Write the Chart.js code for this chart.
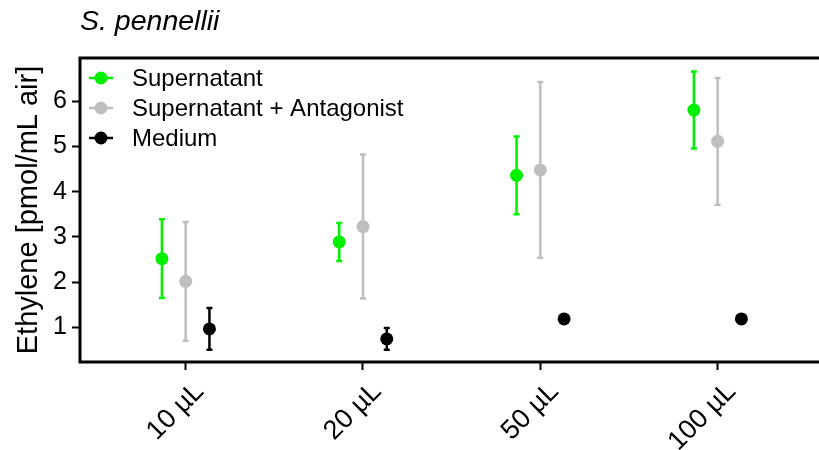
<!DOCTYPE html>
<html>
<head>
<meta charset="utf-8">
<script src="https://cdn.jsdelivr.net/npm/chart.js@4.4.1/dist/chart.umd.min.js"></script>
<style>
  html, body { margin: 0; padding: 0; background: #fff; }
</style>
</head>
<body>
<canvas id="myChart" width="819" height="450"></canvas>
<script>
// data (mean and sd per dose)
var categories = ['10 µL', '20 µL', '50 µL', '100 µL'];
var seriesNames = ['Supernatant', 'Supernatant + Antagonist', 'Medium'];
var supernatant = [2.52, 2.89, 4.36, 5.80];
var supernatantSd = [0.87, 0.42, 0.86, 0.85];
var antagonist = [2.02, 3.23, 4.48, 5.11];
var antagonistSd = [1.31, 1.59, 1.94, 1.40];
var medium = [0.97, 0.75, 1.19, 1.19];
var mediumSd = [0.46, 0.24, 0, 0];
var yTicks = [1, 2, 3, 4, 5, 6];

var colors = ['#00f000', '#bebebe', '#000000'];
var dodge = [-0.134, 0, 0.134];

Chart.defaults.font.family = '"Liberation Sans", Arial, sans-serif';
Chart.defaults.color = '#000';

function makePoints(values, sds, k) {
  return values.map(function (v, i) {
    return { x: i + dodge[k], y: v, sd: sds[i] };
  });
}

// error bars drawn under the points
var errorBars = {
  id: 'errorBars',
  beforeDatasetsDraw: function (chart) {
    var ctx = chart.ctx;
    var xs = chart.scales.x, ys = chart.scales.y;
    chart.data.datasets.forEach(function (ds) {
      ctx.save();
      ctx.strokeStyle = ds.borderColor;
      ctx.lineWidth = 2.5;
      ds.data.forEach(function (p) {
        if (!p.sd) return;
        var px = xs.getPixelForValue(p.x);
        var top = ys.getPixelForValue(p.y + p.sd);
        var bot = ys.getPixelForValue(p.y - p.sd);
        ctx.beginPath();
        ctx.moveTo(px, top); ctx.lineTo(px, bot);
        ctx.moveTo(px - 3, top); ctx.lineTo(px + 3, top);
        ctx.moveTo(px - 3, bot); ctx.lineTo(px + 3, bot);
        ctx.stroke();
      });
      ctx.restore();
    });
  }
};

// frame, title, y label and legend
var decorations = {
  id: 'decorations',
  afterDraw: function (chart) {
    var ctx = chart.ctx, a = chart.chartArea;
    ctx.save();
    ctx.strokeStyle = '#000';
    ctx.lineWidth = 3;
    ctx.beginPath();
    ctx.moveTo(chart.width, a.top); ctx.lineTo(a.left, a.top);
    ctx.lineTo(a.left, a.bottom); ctx.lineTo(chart.width, a.bottom);
    ctx.stroke();

    ctx.fillStyle = '#000';
    ctx.font = 'italic 28.5px "Liberation Sans", Arial, sans-serif';
    ctx.textAlign = 'left';
    ctx.textBaseline = 'alphabetic';
    ctx.fillText('S. pennellii', 80, 30);

    ctx.save();
    ctx.translate(29, (a.top + a.bottom) / 2);
    ctx.rotate(-Math.PI / 2);
    ctx.font = '29px "Liberation Sans", Arial, sans-serif';
    ctx.textAlign = 'center';
    ctx.textBaseline = 'middle';
    ctx.fillText('Ethylene [pmol/mL air]', 0, 0);
    ctx.restore();

    ctx.font = '24px "Liberation Sans", Arial, sans-serif';
    ctx.textBaseline = 'middle';
    chart.data.datasets.forEach(function (ds, i) {
      var y = 78 + i * 30;
      ctx.strokeStyle = ds.borderColor;
      ctx.lineWidth = 2.5;
      ctx.beginPath(); ctx.moveTo(89, y); ctx.lineTo(113, y); ctx.stroke();
      ctx.fillStyle = ds.borderColor;
      ctx.beginPath(); ctx.arc(101, y, 6.5, 0, Math.PI * 2); ctx.fill();
      ctx.fillStyle = '#000';
      ctx.fillText(ds.label, 132, y + 1);
    });
    ctx.restore();
  }
};

var config = {
  type: 'scatter',
  data: {
    datasets: [
      { label: seriesNames[0], data: makePoints(supernatant, supernatantSd, 0) },
      { label: seriesNames[1], data: makePoints(antagonist, antagonistSd, 1) },
      { label: seriesNames[2], data: makePoints(medium, mediumSd, 2) }
    ].map(function (ds, i) {
      ds.borderColor = colors[i];
      ds.backgroundColor = colors[i];
      ds.pointRadius = 6.5;
      ds.pointBorderWidth = 0;
      return ds;
    })
  },
  options: {
    responsive: false,
    animation: false,
    layout: { padding: { top: 58, left: 0, right: 0, bottom: 0 } },
    plugins: {
      legend: { display: false },
      tooltip: { enabled: false }
    },
    scales: {
      x: {
        type: 'linear',
        min: -0.596,
        max: 3.535,
        afterFit: function (scale) { scale.height = 88; },
        afterBuildTicks: function (scale) {
          scale.ticks = categories.map(function (c, i) { return { value: i }; });
        },
        ticks: {
          autoSkip: false,
          minRotation: 45,
          maxRotation: 45,
          padding: 6,
          labelOffset: 14,
          font: { size: 27 },
          callback: function (value) { return categories[value]; }
        },
        grid: { drawOnChartArea: false, tickLength: 8, tickColor: '#000', tickWidth: 2 },
        border: { display: false }
      },
      y: {
        min: 0.24,
        max: 6.95,
        afterFit: function (scale) { scale.width = 80; },
        afterBuildTicks: function (scale) {
          scale.ticks = yTicks.map(function (v) { return { value: v }; });
        },
        ticks: { padding: 5, font: { size: 25 } },
        grid: { drawOnChartArea: false, tickLength: 8, tickColor: '#000', tickWidth: 2 },
        border: { display: false }
      }
    }
  },
  plugins: [errorBars, decorations]
};

// Create the chart
var myChart = new Chart(document.getElementById('myChart'), config);
</script>
</body>
</html>
